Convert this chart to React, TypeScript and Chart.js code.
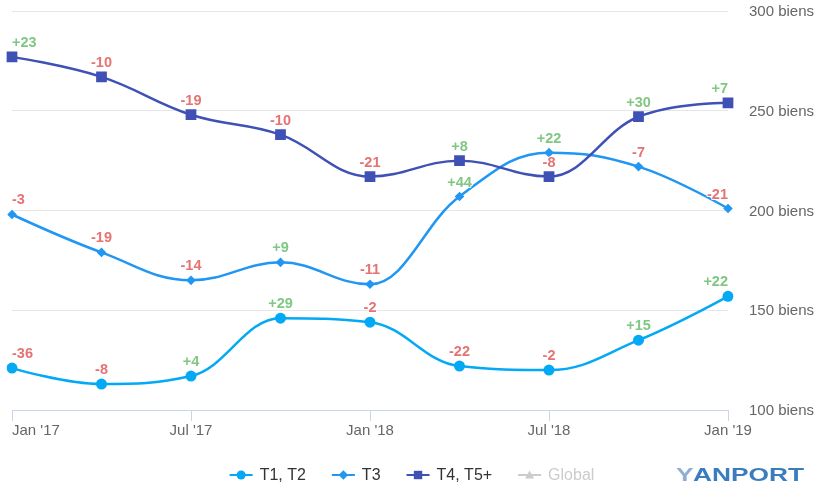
import React, { useEffect, useRef } from "react";
import { Chart, registerables } from "chart.js";

Chart.register(...registerables);

const quarters = ["Jan '17", "Apr '17", "Jul '17", "Oct '17", "Jan '18", "Apr '18", "Jul '18", "Oct '18", "Jan '19"];
const xTickLabels = ["Jan '17", "", "Jul '17", "", "Jan '18", "", "Jul '18", "", "Jan '19"];
const seriesNames = ["T1, T2", "T3", "T4, T5+", "Global"];
const t1t2Values = [121, 113, 117, 146, 144, 122, 120, 135, 157];
const t1t2Changes = [-36, -8, 4, 29, -2, -22, -2, 15, 22];
const t3Values = [198, 179, 165, 174, 163, 207, 229, 222, 201];
const t3Changes = [-3, -19, -14, 9, -11, 44, 22, -7, -21];
const t4Values = [277, 267, 248, 238, 217, 225, 217, 247, 254];
const t4Changes = [23, -10, -19, -10, -21, 8, -8, 30, 7];
const globalValues: number[] = [];
const yMin = 100;
const yMax = 300;
const yStep = 50;
const yUnit = "biens";

const FONT = "'Liberation Sans', Arial, Helvetica, sans-serif";
const GREEN = "#81C784";
const RED = "#E57373";
const COLORS = ["#03A9F4", "#2196F3", "#3F51B5", "#cccccc"];

function drawMarker(ctx: CanvasRenderingContext2D, style: string, x: number, y: number, r: number, color: string) {
  ctx.save();
  ctx.fillStyle = color;
  ctx.beginPath();
  if (style === "circle") {
    ctx.arc(x, y, r, 0, Math.PI * 2);
  } else if (style === "rectRot") {
    ctx.moveTo(x - r, y);
    ctx.lineTo(x, y - r);
    ctx.lineTo(x + r, y);
    ctx.lineTo(x, y + r);
    ctx.closePath();
  } else if (style === "rect") {
    ctx.rect(x - r, y - r, 2 * r, 2 * r);
  } else if (style === "triangle") {
    ctx.moveTo(x, y - r);
    ctx.lineTo(x + r, y + r * 0.8);
    ctx.lineTo(x - r, y + r * 0.8);
    ctx.closePath();
  }
  ctx.fill();
  ctx.restore();
}

// Highcharts-like spline control points (smoothing 1.5, no overshoot beyond neighbours)
const splinePlugin = {
  id: "hcSpline",
  beforeDatasetDraw(chart: any, args: any) {
    const meta = args.meta;
    const line = meta.dataset;
    if (!line) return;
    line.updateControlPoints(chart.chartArea, "x");
    const pts = meta.data;
    const n = pts.length;
    const s = 1.5;
    const d = s + 1;
    for (let i = 0; i < n; i++) {
      const p = pts[i];
      const x = p.x;
      const y = p.y;
      if (i === 0 || i === n - 1) {
        p.cp1x = x; p.cp1y = y; p.cp2x = x; p.cp2y = y;
        continue;
      }
      const lx = pts[i - 1].x, ly = pts[i - 1].y;
      const nx = pts[i + 1].x, ny = pts[i + 1].y;
      const lcx = (s * x + lx) / d;
      let lcy = (s * y + ly) / d;
      const rcx = (s * x + nx) / d;
      let rcy = (s * y + ny) / d;
      if (rcx !== lcx) {
        const corr = ((rcy - lcy) * (rcx - x)) / (rcx - lcx) + y - rcy;
        lcy += corr;
        rcy += corr;
      }
      if (lcy > Math.max(ly, y)) { lcy = Math.max(ly, y); rcy = 2 * y - lcy; }
      else if (lcy < Math.min(ly, y)) { lcy = Math.min(ly, y); rcy = 2 * y - lcy; }
      if (rcy > Math.max(ny, y)) { rcy = Math.max(ny, y); lcy = 2 * y - rcy; }
      else if (rcy < Math.min(ny, y)) { rcy = Math.min(ny, y); lcy = 2 * y - rcy; }
      p.cp1x = lcx; p.cp1y = lcy; p.cp2x = rcx; p.cp2y = rcy;
    }
    line._pointsUpdated = true;
  },
};

const changeLabelsPlugin = {
  id: "changeLabels",
  afterDatasetsDraw(chart: any) {
    const ctx: CanvasRenderingContext2D = chart.ctx;
    const area = chart.chartArea;
    ctx.save();
    ctx.font = `bold 14.5px ${FONT}`;
    ctx.textBaseline = "middle";
    ctx.textAlign = "center";
    chart.data.datasets.forEach((ds: any, i: number) => {
      if (!chart.isDatasetVisible(i) || !ds.changes) return;
      const meta = chart.getDatasetMeta(i);
      meta.data.forEach((pt: any, j: number) => {
        const v = ds.changes[j];
        if (v === undefined || v === null) return;
        const txt = v > 0 ? `+${v}` : `${v}`;
        const w = ctx.measureText(txt).width;
        let x = pt.x;
        if (x - w / 2 < area.left) x = area.left + w / 2;
        if (x + w / 2 > area.right) x = area.right - w / 2;
        const y = pt.y - 14;
        ctx.lineWidth = 2;
        ctx.strokeStyle = "rgba(255,255,255,0.9)";
        ctx.lineJoin = "round";
        ctx.strokeText(txt, x, y);
        ctx.fillStyle = v > 0 ? GREEN : RED;
        ctx.fillText(txt, x, y);
      });
    });
    ctx.restore();
  },
};

const xLabelsPlugin = {
  id: "xLabels",
  afterDraw(chart: any) {
    const ctx: CanvasRenderingContext2D = chart.ctx;
    const xs = chart.scales.x;
    const area = chart.chartArea;
    ctx.save();
    ctx.font = `15px ${FONT}`;
    ctx.fillStyle = "#666666";
    ctx.textBaseline = "middle";
    ctx.textAlign = "center";
    xTickLabels.forEach((lab, i) => {
      if (!lab) return;
      const w = ctx.measureText(lab).width;
      let x = xs.getPixelForValue(i);
      if (x - w / 2 < area.left) x = area.left + w / 2;
      ctx.fillText(lab, x, area.bottom + 21);
    });
    ctx.restore();
  },
};

const legendPlugin = {
  id: "customLegend",
  afterDraw(chart: any) {
    const ctx: CanvasRenderingContext2D = chart.ctx;
    ctx.save();
    ctx.font = `16px ${FONT}`;
    ctx.textBaseline = "middle";
    ctx.textAlign = "left";
    const symW = 23;
    const gapText = 7;
    const gapItem = 26;
    const items = chart.data.datasets.map((ds: any, i: number) => ({
      label: ds.label,
      style: ds.pointStyle,
      color: ds.borderColor,
      hidden: !chart.isDatasetVisible(i),
      w: symW + gapText + ctx.measureText(ds.label).width,
    }));
    const total = items.reduce((s: number, it: any) => s + it.w, 0) + gapItem * (items.length - 1);
    let x = 412 - total / 2;
    const y = 475;
    items.forEach((it: any) => {
      const col = it.hidden ? "#cccccc" : it.color;
      ctx.strokeStyle = col;
      ctx.lineWidth = 2;
      ctx.beginPath();
      ctx.moveTo(x, y);
      ctx.lineTo(x + symW, y);
      ctx.stroke();
      const r = it.style === "rect" ? 4.2 : it.style === "rectRot" ? 4.8 : 4.5;
      drawMarker(ctx, it.style, x + symW / 2, y, r, col);
      ctx.fillStyle = it.hidden ? "#cccccc" : "#333333";
      ctx.fillText(it.label, x + symW + gapText, y + 0.5);
      x += it.w + gapItem;
    });

    // logo
    ctx.save();
    ctx.font = `bold 18px ${FONT}`;
    ctx.textBaseline = "alphabetic";
    const wRest = ctx.measureText("ANPORT").width;
    const sx = 111 / wRest;
    ctx.translate(676, 481);
    ctx.scale(sx, 1);
    ctx.fillStyle = "#8fb0d3";
    ctx.fillText("Y", 0, 0);
    ctx.fillStyle = "#3a7dbf";
    ctx.fillText("ANPORT", (693 - 676) / sx, 0);
    ctx.restore();
    ctx.restore();
  },
};

export default function App() {
  const ref = useRef<HTMLCanvasElement | null>(null);

  useEffect(() => {
    if (!ref.current) return;
    const mk = (label: string, data: number[], color: string, style: string, radius: number, extra: any) => ({
      label,
      data,
      borderColor: color,
      backgroundColor: color,
      pointBackgroundColor: color,
      pointBorderColor: color,
      pointBorderWidth: 0,
      pointStyle: style,
      pointRadius: radius,
      pointHoverRadius: radius,
      borderWidth: 2.5,
      tension: 0.4,
      fill: false,
      ...extra,
    });
    const chart = new Chart(ref.current, {
      type: "line",
      data: {
        labels: quarters,
        datasets: [
          mk(seriesNames[0], t1t2Values, COLORS[0], "circle", 5.5, { changes: t1t2Changes, order: 3 }),
          mk(seriesNames[1], t3Values, COLORS[1], "rectRot", 4.8, { changes: t3Changes, order: 2 }),
          mk(seriesNames[2], t4Values, COLORS[2], "rect", 7.6, { changes: t4Changes, order: 1 }),
          mk(seriesNames[3], globalValues, COLORS[3], "triangle", 5, { hidden: true, order: 4 }),
        ] as any,
      },
      options: {
        animation: false,
        responsive: false,
        maintainAspectRatio: false,
        layout: { padding: { left: 12, top: 11, right: 0, bottom: 0 } },
        plugins: {
          legend: { display: false },
          tooltip: { enabled: false },
        },
        scales: {
          x: {
            type: "category",
            offset: false,
            afterFit: (s: any) => {
              s.height = 88;
              s.paddingLeft = 0;
              s.paddingRight = 0;
            },
            grid: {
              drawOnChartArea: false,
              drawTicks: true,
              tickLength: 11,
              color: (c: any) => (c.index % 2 === 0 ? "#ccd6eb" : "rgba(0,0,0,0)"),
            },
            border: { display: true, color: "#ccd6eb", width: 1 },
            ticks: { display: false },
          },
          y: {
            position: "right",
            min: yMin,
            max: yMax,
            afterFit: (s: any) => {
              s.width = 100;
              s.paddingTop = 0;
              s.paddingBottom = 0;
            },
            grid: { color: "#e6e6e6", drawTicks: false, lineWidth: 1 },
            border: { display: false },
            ticks: {
              stepSize: yStep,
              padding: 21,
              labelOffset: 1,
              color: "#666666",
              font: { family: FONT, size: 15 },
              callback: (v: any) => `${v} ${yUnit}`,
            },
          },
        },
      } as any,
      plugins: [splinePlugin, changeLabelsPlugin, xLabelsPlugin, legendPlugin],
    });
    return () => chart.destroy();
  }, []);

  return (
    <div style={{ position: "fixed", left: 0, top: 0, width: 828, height: 498, background: "#ffffff" }}>
      <canvas ref={ref} width={828} height={498} style={{ width: 828, height: 498, display: "block" }} />
    </div>
  );
}
